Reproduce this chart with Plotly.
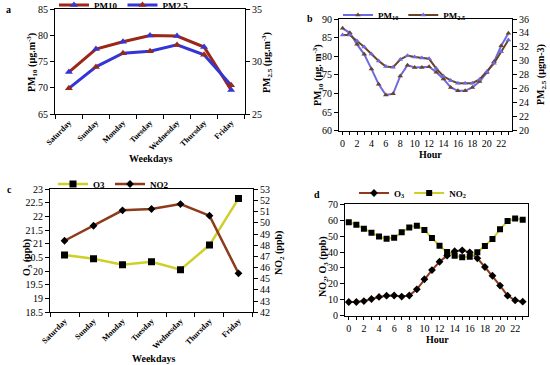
import plotly.graph_objects as go

W, H = 550, 365
def px(x): return x / W
def py(y): return 1 - y / H

# ---------- data ----------
weekdays = ["Saturday", "Sunday", "Monday", "Tuesday", "Wednesday", "Thursday", "Friday"]
pm10_week = [73.0, 77.4, 78.8, 80.0, 79.9, 77.8, 69.6]
pm25_week = [27.45, 29.5, 30.8, 31.0, 31.6, 30.65, 27.75]

hours = list(range(24))
pm10_hour = [87.5, 86.3, 83.2, 80.5, 76.6, 72.5, 69.6, 69.9, 74.7, 77.6, 77.0, 77.0,
             77.2, 75.7, 73.9, 71.6, 70.7, 70.7, 71.6, 73.2, 75.6, 78.5, 82.8, 86.2]
pm25_hour = [33.7, 33.7, 32.85, 32.0, 31.0, 30.0, 29.2, 29.1, 30.2, 30.75, 30.55, 30.4,
             30.3, 28.9, 27.8, 27.2, 26.8, 26.8, 26.8, 27.35, 28.45, 29.65, 31.3, 33.0]

o3_week = [20.60, 20.46, 20.24, 20.35, 20.06, 20.96, 22.66]
no2_week = [48.4, 49.74, 51.12, 51.24, 51.68, 50.64, 45.49]

o3_hour = [8.6, 8.6, 9.2, 10.5, 11.8, 12.6, 12.7, 12.0, 12.7, 16.6, 22.9, 28.7,
           33.9, 37.7, 40.5, 41.1, 39.8, 36.1, 30.6, 25.1, 18.9, 12.6, 9.7, 8.8]
no2_hour = [58.7, 57.2, 54.7, 52.2, 49.7, 48.4, 49.0, 52.4, 55.5, 56.6, 53.9, 48.8,
            44.0, 40.0, 37.7, 36.7, 37.0, 39.8, 43.8, 48.2, 54.3, 59.5, 61.0, 60.3]

hour_ticks = list(range(0, 24, 2))

# ---------- styles ----------
FONT = "Liberation Serif"
BROWN_A = "#9A2718"
BLUE_A = "#3535D5"
BLUE_B = "#6E6AE0"
BROWN_B = "#6A4428"
YELLOW = "#CFCF2A"
BROWN_C = "#8E3A1C"

fig = go.Figure()

# Panel a
fig.add_trace(go.Scatter(x=weekdays, y=pm10_week, name="PM10", mode="lines+markers",
                         line=dict(color=BROWN_A, width=3),
                         marker=dict(symbol="triangle-up", size=7, color=BLUE_A),
                         xaxis="x", yaxis="y", legend="legend"))
fig.add_trace(go.Scatter(x=weekdays, y=pm25_week, name="PM2.5", mode="lines+markers",
                         line=dict(color=BLUE_A, width=3),
                         marker=dict(symbol="triangle-up", size=7, color=BROWN_A),
                         xaxis="x", yaxis="y2", legend="legend"))
# Panel b
fig.add_trace(go.Scatter(x=hours, y=pm10_hour, name="PM<sub>10</sub>", mode="lines+markers",
                         line=dict(color=BLUE_B, width=2),
                         marker=dict(symbol="triangle-up", size=5, color=BROWN_B),
                         xaxis="x2", yaxis="y3", legend="legend2"))
fig.add_trace(go.Scatter(x=hours, y=pm25_hour, name="PM<sub>2.5</sub>", mode="lines+markers",
                         line=dict(color=BROWN_B, width=2),
                         marker=dict(symbol="triangle-up", size=5, color=BLUE_B),
                         xaxis="x2", yaxis="y4", legend="legend2"))
# Panel c
fig.add_trace(go.Scatter(x=weekdays, y=o3_week, name="O3", mode="lines+markers",
                         line=dict(color=YELLOW, width=2.5),
                         marker=dict(symbol="square", size=7, color="black"),
                         xaxis="x3", yaxis="y5", legend="legend3"))
fig.add_trace(go.Scatter(x=weekdays, y=no2_week, name="NO2", mode="lines+markers",
                         line=dict(color=BROWN_C, width=2.5),
                         marker=dict(symbol="diamond", size=6, color="black"),
                         xaxis="x3", yaxis="y6", legend="legend3"))
# Panel d
fig.add_trace(go.Scatter(x=hours, y=o3_hour, name="O<sub>3</sub>", mode="lines+markers",
                         line=dict(color=BROWN_C, width=2),
                         marker=dict(symbol="diamond", size=6, color="black"),
                         xaxis="x4", yaxis="y7", legend="legend4"))
fig.add_trace(go.Scatter(x=hours, y=no2_hour, name="NO<sub>2</sub>", mode="lines+markers",
                         line=dict(color=YELLOW, width=2),
                         marker=dict(symbol="square", size=6, color="black"),
                         xaxis="x4", yaxis="y7", legend="legend4"))

tickfont = dict(family=FONT, size=10, color="black")
base_axis = dict(showgrid=False, zeroline=False, showline=True, linecolor="black", linewidth=1,
                 ticks="outside", ticklen=4, tickcolor="black", tickfont=tickfont,
                 automargin=False)

dom_a_x = [px(55), px(245)]
dom_a_y = [py(114), py(9.3)]
dom_b_x = [px(339), px(512)]
dom_b_y = [py(130.7), py(19)]
dom_c_x = [px(50), px(253)]
dom_c_y = [py(312.3), py(189.3)]
dom_d_x = [px(345), px(528)]
dom_d_y = [py(315.7), py(204.3)]

cat_x = dict(base_axis, type="category", tickson="boundaries", tickangle=-45, mirror=True,
             tickfont=dict(family=FONT, size=8, color="black", weight="bold"))
hour_x = dict(base_axis, range=[-0.5, 23.5], tickvals=hour_ticks, mirror=True, ticklen=3,
              minor=dict(dtick=1, ticks="outside", ticklen=3, tickcolor="black"))

fig.update_layout(
    template="none",
    width=W, height=H, margin=dict(l=0, r=0, t=0, b=0, autoexpand=False),
    paper_bgcolor="white", plot_bgcolor="white",
    font=dict(family=FONT, color="black"),
    xaxis=dict(cat_x, domain=dom_a_x, anchor="y"),
    yaxis=dict(base_axis, domain=dom_a_y, range=[65, 85], dtick=5, anchor="x"),
    yaxis2=dict(base_axis, overlaying="y", side="right", range=[25, 35], dtick=5, anchor="x"),
    xaxis2=dict(hour_x, domain=dom_b_x, anchor="y3"),
    yaxis3=dict(base_axis, domain=dom_b_y, range=[60, 90], dtick=5, anchor="x2"),
    yaxis4=dict(base_axis, overlaying="y3", side="right", range=[20, 36], dtick=2, anchor="x2"),
    xaxis3=dict(cat_x, domain=dom_c_x, anchor="y5"),
    yaxis5=dict(base_axis, domain=dom_c_y, range=[18.5, 23], dtick=0.5, anchor="x3"),
    yaxis6=dict(base_axis, overlaying="y5", side="right", range=[42, 53], dtick=1, anchor="x3"),
    xaxis4=dict(hour_x, domain=dom_d_x, anchor="y7", range=[-0.5, 23.7]),
    yaxis7=dict(base_axis, domain=dom_d_y, range=[0, 70], dtick=10, anchor="x4", mirror=True),
)

leg_common = dict(orientation="h", bgcolor="rgba(0,0,0,0)", itemwidth=30,
                  font=dict(family=FONT, size=9, color="black", weight="bold"),
                  xanchor="left", yanchor="middle", tracegroupgap=0)
fig.update_layout(
    legend=dict(leg_common, x=px(54), y=py(5)),
    legend2=dict(leg_common, x=px(338), y=py(15)),
    legend3=dict(leg_common, x=px(53), y=py(184)),
    legend4=dict(leg_common, x=px(354), y=py(193)),
)

title_font = dict(family=FONT, size=10, color="black", weight="bold")
def ann(text, x, y, angle=0, size=10):
    fig.add_annotation(text=text, x=px(x), y=py(y), xref="paper", yref="paper",
                       showarrow=False, textangle=angle, xanchor="center", yanchor="middle",
                       font=dict(title_font, size=size))

# panel labels
ann("a", 8, 9)
ann("b", 310, 18)
ann("c", 9, 189)
ann("d", 317, 194)
# axis titles
ann("PM<sub>10</sub> (µg.m<sup>-3</sup>)", 32, 63, -90)
ann("PM<sub>2.5</sub> (µg.m<sup>-3</sup>)", 267, 63, -90)
ann("Weekdays", 150, 158)
ann("PM<sub>10</sub> (µg. m<sup>-3</sup>)", 318, 75, -90)
ann("PM<sub>2.5</sub> (µgm-3)", 542, 75, -90)
ann("Hour", 430, 155)
ann("O<sub>3</sub> (ppb)", 27, 258, -90)
ann("NO<sub>2</sub> (ppb)", 279, 253, -90)
ann("Weekdays", 153, 358)
ann("NO<sub>2</sub>, O<sub>3</sub> (ppb)", 323, 267, -90)
ann("Hour", 437, 339)

fig.write_html("out.html", config={"displayModeBar": False},
               post_script="document.body.style.margin='0';")
